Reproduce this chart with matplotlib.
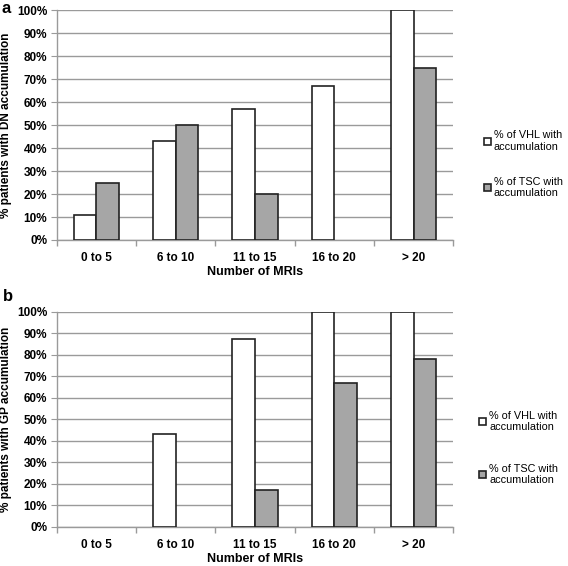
import numpy as np
import matplotlib
matplotlib.use("Agg")
import matplotlib.pyplot as plt
from matplotlib.ticker import FixedLocator, PercentFormatter

plt.rcParams['font.family'] = ['Liberation Sans', 'DejaVu Sans']
plt.rcParams['font.weight'] = 'bold'

categories = ["0 to 5", "6 to 10", "11 to 15", "16 to 20", "> 20"]
dn_vhl = [11, 43, 57, 67, 100]
dn_tsc = [25, 50, 20, 0, 75]
gp_vhl = [0, 43, 87.5, 100, 100]
gp_tsc = [0, 0, 17, 67, 78]

vhl_label = "% of VHL with\naccumulation"
tsc_label = "% of TSC with\naccumulation"

GRID = "#9a9a9a"
GRAY = "#a6a6a6"


def edges(vals):
    # Excel draws nothing for a zero-height bar
    return ["#222222" if v > 0 else "none" for v in vals]


def draw_panel(ax, vhl, tsc, ylabel, leg_x, leg_y, leg_space):
    x = np.arange(len(categories))
    w = 0.286
    ax.bar(x - w / 2, vhl, w, color="white", edgecolor=edges(vhl),
           linewidth=1.2, label=vhl_label, zorder=3)
    ax.bar(x + w / 2, tsc, w, color=GRAY, edgecolor=edges(tsc),
           linewidth=1.2, label=tsc_label, zorder=3)
    ax.set_xlim(-0.5, len(categories) - 0.5)
    ax.set_ylim(0, 100)
    ax.set_yticks(np.arange(0, 101, 10))
    ax.yaxis.set_major_formatter(PercentFormatter(decimals=0))
    ax.set_xticks(x)
    ax.set_xticklabels(categories)
    ax.xaxis.set_minor_locator(FixedLocator(np.arange(-0.5, len(categories), 1)))
    ax.tick_params(axis="x", which="major", length=0, pad=9, labelsize=8.5)
    ax.tick_params(axis="x", which="minor", length=4, color=GRID, width=1)
    ax.tick_params(axis="y", length=4, color=GRID, labelsize=8.5, pad=3)
    ax.grid(axis="y", color=GRID, linewidth=1, zorder=0)
    for s in ["top", "right"]:
        ax.spines[s].set_visible(False)
    for s in ["left", "bottom"]:
        ax.spines[s].set_color(GRID)
        ax.spines[s].set_linewidth(1)
    ax.set_xlabel("Number of MRIs", fontsize=9, fontweight="bold", labelpad=1)
    ax.set_ylabel(ylabel, fontsize=8.5, fontweight="bold")
    ax.yaxis.set_label_coords(-0.114, 0.5)
    leg = ax.legend(loc="center left", bbox_to_anchor=(leg_x, leg_y), frameon=False,
                    prop={"size": 7.8, "weight": "normal"}, borderpad=0,
                    borderaxespad=0, handlelength=0.6, handleheight=0.6,
                    handletextpad=0.3, labelspacing=leg_space)
    for h in leg.legend_handles:
        h.set_edgecolor("#222222")


fig = plt.figure(figsize=(5.68, 5.66), dpi=100)
ax1 = fig.add_axes([0.100, 0.576, 0.698, 0.406])
ax2 = fig.add_axes([0.100, 0.069, 0.698, 0.380])

draw_panel(ax1, dn_vhl, dn_tsc, "% patients with DN accumulation", 1.078, 0.33, 2.3)
draw_panel(ax2, gp_vhl, gp_tsc, "% patients with GP accumulation", 1.066, 0.367, 2.9)

fig.text(0.002, 0.998, "a", fontsize=12, fontweight="bold", va="top")
fig.text(0.006, 0.49, "b", fontsize=12, fontweight="bold", va="top")

fig.savefig("out.png", dpi=100)
